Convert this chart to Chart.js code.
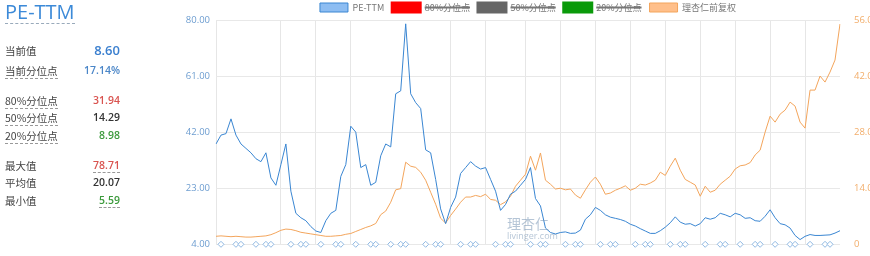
<!DOCTYPE html>
<html>
<head>
<meta charset="utf-8">
<script src="https://cdn.jsdelivr.net/npm/chart.js@4"></script>
<style>
  body { margin: 0; background: #fff; font-family: "Noto Sans CJK SC", "Open Sans", sans-serif; }
  #wrap { position: relative; width: 870px; height: 256px; overflow: hidden; }
  #graph { position: absolute; left: 0; top: -5px; }
  .panel { position: absolute; left: 5px; top: 0; width: 120px; }
  .title { position: absolute; left: 0; top: 1px; font-family: "Open Sans", sans-serif; font-size: 20px; color: #3c8ad8; border-bottom: 1px dashed #9ab; line-height: 22px; }
  .row { position: absolute; left: 0; width: 115px; height: 16px; font-size: 10.5px; color: #444; }
  .row .lab { position: absolute; left: 0; top: 0; }
  .row .val { position: absolute; right: 0; top: 0; font-family: "Open Sans", sans-serif; font-weight: 600; }
  .dash { border-bottom: 1px dashed #999; }
  .wm { position: absolute; left: 507px; top: 216px; color: rgba(120,150,180,0.55); font-size: 14px; line-height: 15px; }
  .wm small { display: block; font-size: 9px; line-height: 9px; font-family: "Open Sans", sans-serif; }
</style>
</head>
<body>
<div id="wrap">
  <canvas id="graph" width="870" height="261"></canvas>
  <div class="panel">
    <div class="title">PE-TTM</div>
    <div class="row" style="top:43px"><span class="lab">当前值</span><span class="val" style="color:#3a7fcf;font-size:13px;top:-2px">8.60</span></div>
    <div class="row" style="top:63px"><span class="lab dash">当前分位点</span><span class="val" style="color:#4a86c8">17.14%</span></div>
    <div class="row" style="top:93px"><span class="lab dash">80%分位点</span><span class="val" style="color:#d9534f">31.94</span></div>
    <div class="row" style="top:110px"><span class="lab dash">50%分位点</span><span class="val" style="color:#333">14.29</span></div>
    <div class="row" style="top:128px"><span class="lab dash">20%分位点</span><span class="val" style="color:#3c9a3c">8.98</span></div>
    <div class="row" style="top:158px"><span class="lab">最大值</span><span class="val dash" style="color:#d9534f">78.71</span></div>
    <div class="row" style="top:175px"><span class="lab">平均值</span><span class="val" style="color:#333">20.07</span></div>
    <div class="row" style="top:193px"><span class="lab">最小值</span><span class="val dash" style="color:#3c9a3c">5.59</span></div>
  </div>
  <div class="wm">理杏仁<small>livinger.com</small></div>
</div>
<script>
// PE-TTM
const pe = [
  38, 41, 41.5, 46.5, 41, 38, 36.5, 35, 33, 32,
  35, 26.5, 24, 31, 38, 22, 14.5, 13, 12, 10,
  8.5, 8, 12, 14.5, 15.5, 27, 31, 44, 42, 30,
  31, 24, 25, 34, 38, 37, 55, 56, 78.7, 55,
  52, 50, 36, 35, 26, 16, 11, 16.5, 20, 28,
  30, 32, 30.5, 29.5, 30, 26, 22, 15.5, 17.5, 21,
  22, 24, 26, 30, 19.5, 17, 9.5, 8, 7.5, 8,
  8.2, 7.7, 7.8, 8.8, 12.5, 14, 16.5, 15.5, 14, 13.2,
  12.8, 12.4, 11.8, 10.8, 10.2, 9.3, 8.5, 7.7, 7.7, 8.6,
  9.8, 11.3, 13.3, 11.5, 10.8, 11, 10.2, 11, 13, 12.5,
  13, 14.5, 14, 13.3, 14.5, 14, 12.8, 13, 12, 11.8,
  13.5, 15.7, 13, 11, 10.6, 9.5, 7, 5.6, 6.7, 7.3,
  7, 7, 7.1, 7.2, 7.8, 8.6
];

// 理杏仁前复权 price
const price = [
  2.0, 2.1, 2.0, 1.9, 2.0, 1.9, 1.8, 1.8, 1.9, 2.0,
  2.1, 2.4, 2.9, 3.5, 3.8, 3.7, 3.4, 3.0, 2.8, 2.6,
  2.4, 2.2, 2.0, 2.0, 2.1, 2.2, 2.5, 2.7, 3.2, 3.7,
  4.2, 4.6, 5.2, 7.4, 8.3, 10.5, 13.6, 13.9, 20.5, 19.5,
  19.2, 18, 16, 13, 10, 6.5, 5.3, 7.2, 8.8, 10.5,
  11.8, 11.8, 12.2, 11.9, 12.5, 11.2, 11.0, 9.9, 10.6, 12.0,
  14.5, 16.0, 17.5, 22.0, 18.5, 22.8, 16.0, 15.0, 13.8, 14.0,
  13.6, 13.8, 12.3, 11.5, 13.6, 15.5, 16.8, 15.0, 12.5, 12.8,
  13.5, 14.0, 14.6, 13.5, 14.0, 15.0, 14.8, 15.3, 16.0, 18.0,
  17.2, 19.5, 21.5, 18.5, 16.2, 15.5, 14.8, 12.0, 14.5, 13.0,
  13.5, 15.0, 16.0, 17.0, 18.8, 19.6, 19.8, 20.4, 22.3, 23.5,
  28.0, 32.0, 30.5, 32.5, 33.5, 35.5, 34.5, 30.5, 29.0, 38.5,
  38.5, 42.0, 40.5, 43.0, 46.0, 55.0
];

// report dates (marker positions along the series)
const reportIdx = [1, 4, 5, 8, 10, 11, 15, 17, 18, 21, 24, 25, 28, 31, 32, 35, 37, 38,
  42, 44, 45, 49, 51, 52, 56, 58, 59, 63, 65, 66, 70, 72, 73, 77, 79, 80, 84, 86, 87,
  91, 93, 94, 98, 101, 102, 105, 108, 109, 112, 115, 116, 119, 122, 123];

// where the year grid lines fall
const yearIdx = [0, 13, 20, 27, 47, 54, 62, 69, 76, 83, 90, 97, 104, 111, 118];

const labels = pe.map((v, i) => i);
const reports = labels.map(i => reportIdx.includes(i) ? 4 : null);

const fixLegend = {
    id: 'fixLegend',
    beforeInit(chart) {
        const fit = chart.legend.fit;
        chart.legend.fit = function() {
            fit.bind(chart.legend)();
            this.height = 25;
        };
    }
};

var ctx = document.getElementById('graph').getContext('2d');

new Chart(ctx, {
    type: 'line',
    data: {
        labels: labels,
        datasets: [
            {
                label: 'PE-TTM',
                data: pe,
                borderColor: '#3a86d2',
                backgroundColor: '#8dbdf2',
                borderWidth: 1,
                pointRadius: 0,
                yAxisID: 'y'
            },
            { label: '80%分位点', data: [], borderColor: '#ff0000', backgroundColor: '#ff0000', hidden: true, yAxisID: 'y' },
            { label: '50%分位点', data: [], borderColor: '#666666', backgroundColor: '#666666', hidden: true, yAxisID: 'y' },
            { label: '20%分位点', data: [], borderColor: '#0a9a0a', backgroundColor: '#0a9a0a', hidden: true, yAxisID: 'y' },
            {
                label: '理杏仁前复权',
                data: price,
                borderColor: '#f3a55c',
                backgroundColor: '#ffbf8a',
                borderWidth: 1,
                pointRadius: 0,
                yAxisID: 'y1'
            },
            {
                label: 'reports',
                data: reports,
                showLine: false,
                clip: false,
                pointStyle: 'rectRot',
                pointRadius: 3,
                borderWidth: 1,
                borderColor: '#8fb8e2',
                backgroundColor: '#ffffff',
                yAxisID: 'y'
            }
        ]
    },
    options: {
        animation: false,
        responsive: false,
        layout: { padding: { left: 150, right: 0, top: 0, bottom: 8 } },
        plugins: {
            legend: {
                position: 'top',
                fullSize: false,
                labels: {
                    boxWidth: 28,
                    boxHeight: 9,
                    padding: 8,
                    color: '#777',
                    font: { size: 9, family: '"Noto Sans CJK SC", "Open Sans", sans-serif' },
                    filter: item => item.text !== 'reports'
                }
            },
            tooltip: { enabled: false }
        },
        scales: {
            x: {
                ticks: { display: false, autoSkip: false },
                grid: {
                    drawTicks: false,
                    color: c => yearIdx.includes(c.index) ? '#e6e6e6' : 'rgba(0,0,0,0)'
                },
                border: { display: false },
                afterFit: s => { s.height = 0; }
            },
            y: {
                position: 'left',
                min: 4,
                max: 80,
                ticks: {
                    stepSize: 19,
                    padding: 6,
                    color: '#6d9dd0',
                    font: { size: 9.5, family: '"Open Sans", sans-serif' },
                    callback: v => v.toFixed(2)
                },
                grid: { color: '#e8e8e8', drawTicks: false },
                border: { display: false },
                afterFit: s => { s.width = 66; }
            },
            y1: {
                position: 'right',
                min: 0,
                max: 56,
                ticks: {
                    stepSize: 14,
                    padding: 6,
                    color: '#f2ad6a',
                    font: { size: 9.5, family: '"Open Sans", sans-serif' },
                    callback: v => v === 0 ? '0' : v.toFixed(2)
                },
                grid: { display: false },
                border: { display: false },
                afterFit: s => { s.width = 30; }
            }
        }
    },
    plugins: [fixLegend]
});
</script>
</body>
</html>
